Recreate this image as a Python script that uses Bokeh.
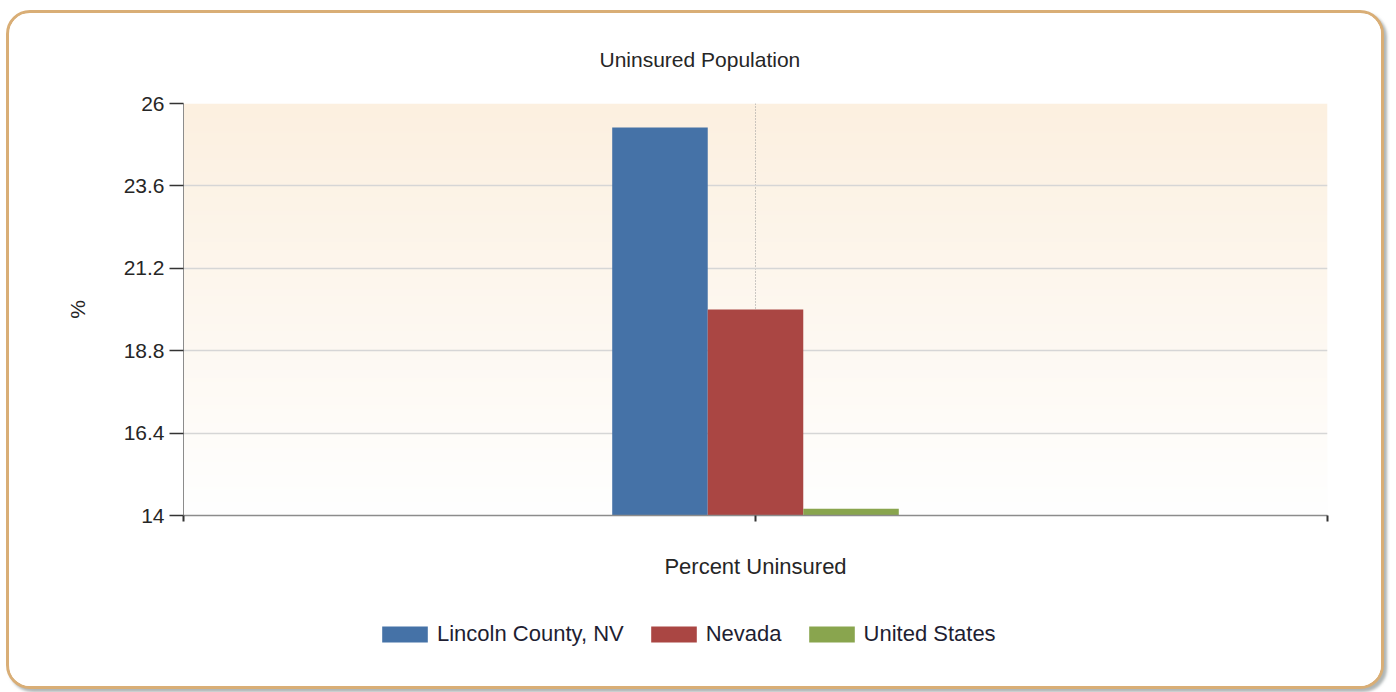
import numpy as np
from bokeh.plotting import figure
from bokeh.layouts import column
from bokeh.models import Range1d, FixedTicker, Legend, LegendItem, Title
from bokeh.embed import file_html
from bokeh.resources import INLINE

# ---------------- data ----------------
categories = ["Percent Uninsured"]
series_names = ["Lincoln County, NV", "Nevada", "United States"]
lincoln_county = [25.3]
nevada = [20.0]
united_states = [14.2]
series_colors = ["#4572A7", "#AA4643", "#89A54E"]
y_ticks = [14, 16.4, 18.8, 21.2, 23.6, 26]
y_tick_labels = ["14", "16.4", "18.8", "21.2", "23.6", "26"]
title_text = "Uninsured Population"
y_label = "%"

FONT = "Liberation Sans"
TEXT = "#262626"

series_values = [lincoln_county, nevada, united_states]
n = len(categories)
y0, y1 = y_ticks[0], y_ticks[-1]
x0, x1 = -1, 2 * n - 1

W = 1372
H_MAIN = 590
H_LEG = 83

p = figure(width=W, height=H_MAIN,
           x_range=Range1d(x0, x1), y_range=Range1d(y0, y1),
           output_backend="svg", toolbar_location=None,
           min_border_left=174, min_border_right=54,
           min_border_top=90, min_border_bottom=H_MAIN - 502,
           title=None)
p.background_fill_color = "white"
p.border_fill_color = "white"
p.outline_line_color = None

# gradient background for the plot area (cream at top -> white at bottom)
gn = 200
t = np.linspace(0.0, 1.0, gn)[:, None]
top_c = np.array([252, 240, 224])
bot_c = np.array([255, 255, 255])
cols = (bot_c[None, :] * (1 - t) + top_c[None, :] * t).astype(np.uint32)
img = np.empty((gn, 2), dtype=np.uint32)
view = img.view(dtype=np.uint8).reshape((gn, 2, 4))
view[:, :, 0] = cols[:, 0][:, None]
view[:, :, 1] = cols[:, 1][:, None]
view[:, :, 2] = cols[:, 2][:, None]
view[:, :, 3] = 255
p.image_rgba(image=[img], x=x0, y=y0, dw=x1 - x0, dh=y1 - y0, level="image")

# bars
bar_w = 0.167
offsets = [(i - (len(series_names) - 1) / 2) * bar_w for i in range(len(series_names))]
for name, vals, col, off in zip(series_names, series_values, series_colors, offsets):
    xs = [2 * i + off for i in range(n)]
    p.vbar(x=xs, top=vals, bottom=y0, width=bar_w,
           fill_color=col, line_color=None)

# title
p.add_layout(Title(text=title_text, align="left", offset=416, standoff=65,
                   text_font=FONT, text_font_size="21px",
                   text_font_style="normal", text_color=TEXT), "above")

# y axis
p.yaxis.ticker = FixedTicker(ticks=y_ticks)
p.yaxis.major_label_overrides = {t_: l for t_, l in zip(y_ticks, y_tick_labels)}
p.yaxis.axis_label = y_label
p.yaxis.axis_label_text_font = FONT
p.yaxis.axis_label_text_font_size = "21px"
p.yaxis.axis_label_text_font_style = "normal"
p.yaxis.axis_label_text_color = TEXT
p.yaxis.axis_label_standoff = 32
p.yaxis.major_label_text_font = FONT
p.yaxis.major_label_text_font_size = "21px"
p.yaxis.major_label_text_color = TEXT
p.yaxis.major_label_standoff = 5
p.yaxis.major_tick_out = 14
p.yaxis.major_tick_in = 0
p.yaxis.minor_tick_line_color = None
p.yaxis.axis_line_color = "#8c8c8c"
p.yaxis.major_tick_line_color = "#333333"
p.yaxis.major_tick_line_width = 1.5

# x axis
x_ticks = [x0] + [v for i in range(n) for v in (2 * i, 2 * i + 1)]
p.xaxis.ticker = FixedTicker(ticks=x_ticks)
overr = {t_: "" for t_ in x_ticks}
for i, c in enumerate(categories):
    overr[2 * i] = c
p.xaxis.major_label_overrides = overr
p.xaxis.major_label_text_font = FONT
p.xaxis.major_label_text_font_size = "22px"
p.xaxis.major_label_text_color = TEXT
p.xaxis.major_label_standoff = 32
p.xaxis.major_tick_out = 6
p.xaxis.major_tick_in = 0
p.xaxis.minor_tick_line_color = None
p.xaxis.axis_line_color = "#8c8c8c"
p.xaxis.axis_line_width = 1.5
p.xaxis.major_tick_line_color = "#333333"
p.xaxis.major_tick_line_width = 2

# grids
p.ygrid.ticker = FixedTicker(ticks=y_ticks)
p.ygrid.grid_line_color = "#d6d6d6"
p.ygrid.grid_line_width = 1.5
p.xgrid.ticker = FixedTicker(ticks=x_ticks)
p.xgrid.grid_line_color = "#999999"
p.xgrid.grid_line_dash = "1 2"
p.xgrid.grid_line_width = 1

# legend strip below the chart (series drawn here again only as legend
# proxies; they fall far outside this strip's ranges, so only swatches show)
pl = figure(width=W, height=H_LEG, x_range=Range1d(100, 101), y_range=Range1d(100, 101),
            output_backend="svg", toolbar_location=None,
            min_border=0, title=None)
pl.axis.visible = False
pl.grid.visible = False
pl.outline_line_color = None
pl.background_fill_color = "white"
pl.border_fill_color = "white"
items = []
for i, (name, vals, col) in enumerate(zip(series_names, series_values, series_colors)):
    r = pl.vbar(x=[i] * len(vals), top=vals, bottom=y0, width=0.1,
                fill_color=col, line_color=None)
    items.append(LegendItem(label=name, renderers=[r]))
legend = Legend(items=items, orientation="horizontal", location=(193, 39),
                label_text_font=FONT, label_text_font_size="22px",
                label_text_color="#1e1e32",
                glyph_width=57, glyph_height=20, label_standoff=4,
                spacing=21, padding=0, margin=0,
                border_line_color=None, background_fill_alpha=0)
pl.add_layout(legend, "center")

layout = column(p, pl, spacing=0)
layout.margin = (10, 0, 0, 6)
layout.styles = {"border": "3px solid #d9ae76", "border-radius": "24px",
                 "box-shadow": "3px 3px 3px rgba(110,120,120,0.55)",
                 "overflow": "hidden", "background": "white"}

open("out.html", "w").write(file_html(layout, INLINE))
